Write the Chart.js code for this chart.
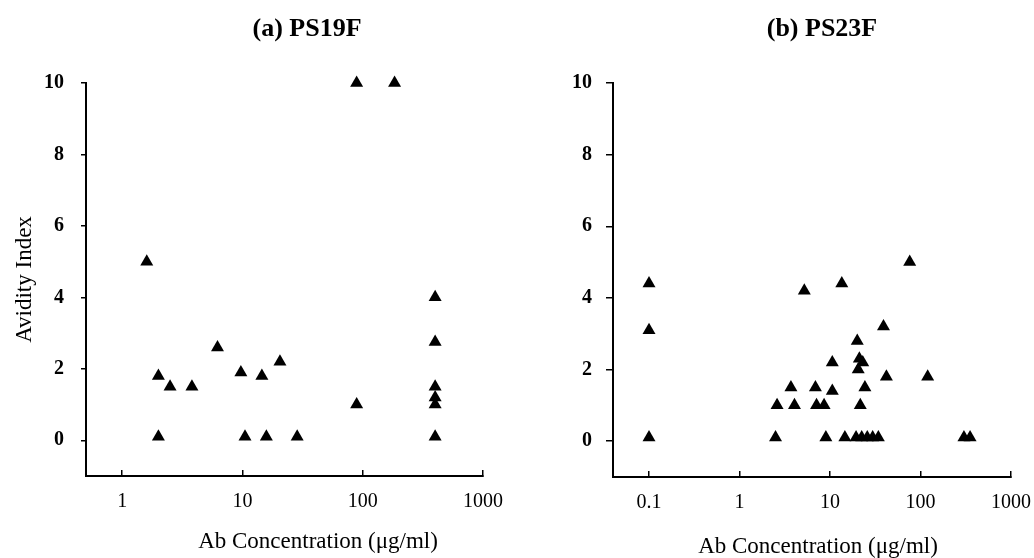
<!DOCTYPE html>
<html>
<head>
<meta charset="utf-8">
<script src="https://cdn.jsdelivr.net/npm/chart.js@4/dist/chart.umd.min.js"></script>
<style>
  body { margin: 0; background: #fff; }
  #wrap { position: relative; width: 1034px; height: 558px; }
  canvas { position: absolute; top: 0; }
  #chartA { left: 0; }
  #chartB { left: 517px; }
</style>
</head>
<body>
<div id="wrap">
  <canvas id="chartA" width="517" height="558"></canvas>
  <canvas id="chartB" width="517" height="558"></canvas>
</div>
<script>
const titleA = '(a) PS19F';
const titleB = '(b) PS23F';
const yLabel = 'Avidity Index';
const xLabel = 'Ab Concentration (\u03bcg/ml)';

// (a) PS19F
const concA = [1.6, 2.0, 2.0, 2.5, 3.8, 6.2, 9.7, 10.5, 14.5, 15.8, 20.5, 28.5, 89, 89, 184, 400, 400, 400, 400, 400, 400];
const avidA = [5.0, 1.8, 0.1, 1.5, 1.5, 2.6, 1.9, 0.1, 1.8, 0.1, 2.2, 0.1, 1.0, 10, 10, 4.0, 2.75, 1.5, 1.2, 1.0, 0.1];

// (b) PS23F
const concB = [0.1, 0.1, 0.1, 2.5, 2.6, 3.7, 4.05, 5.2, 6.9, 7.1, 8.6, 9.0, 10.6, 10.6, 13.5, 14.6,
               19.4, 20, 20.5, 21.1, 23, 21.6, 24.3, 22.4, 25.8, 29.6, 34.2, 39, 42, 76, 120, 302, 353];
const avidB = [4.4, 3.1, 0.1, 0.1, 1.0, 1.5, 1.0, 4.2, 1.5, 1.0, 1.0, 0.1, 2.2, 1.4, 4.4, 0.1,
               0.1, 2.8, 2.0, 2.3, 2.2, 1.0, 1.5, 0.1, 0.1, 0.1, 0.1, 3.2, 1.8, 5.0, 1.8, 0.1, 0.1];

const yTicks = [0, 2, 4, 6, 8, 10];
const xTicksA = [1, 10, 100, 1000];
const xTicksB = [0.1, 1, 10, 100, 1000];

const serif = "'Liberation Serif', 'Times New Roman', serif";

// panel title and x axis title, placed like the original figure
const panelText = {
  id: 'panelText',
  afterDraw(chart, args, opts) {
    const ctx = chart.ctx;
    ctx.save();
    ctx.fillStyle = '#000';
    ctx.textAlign = 'center';
    ctx.textBaseline = 'alphabetic';
    ctx.font = 'bold 26px ' + serif;
    ctx.fillText(opts.title, opts.titleX, 36);
    ctx.font = '23px ' + serif;
    ctx.fillText(xLabel, opts.xLabelX, opts.xLabelY);
    ctx.restore();
  }
};

function makeChart(id, xs, ys, o) {
  const points = xs.map((x, i) => ({ x: x, y: ys[i] }));
  return new Chart(document.getElementById(id), {
    type: 'scatter',
    data: {
      datasets: [{
        data: points,
        clip: false,
        pointStyle: 'triangle',
        pointRadius: 7.5,
        pointHoverRadius: 7.5,
        backgroundColor: '#000',
        borderColor: '#000',
        borderWidth: 0
      }]
    },
    options: {
      responsive: false,
      animation: false,
      devicePixelRatio: 1,
      layout: { padding: { top: 83, right: o.padRight, left: 0, bottom: 0 } },
      plugins: {
        legend: { display: false },
        tooltip: { enabled: false },
        panelText: { title: o.title, titleX: o.titleX, xLabelX: o.xLabelX, xLabelY: o.xLabelY }
      },
      scales: {
        x: {
          type: 'logarithmic',
          min: o.xMin,
          max: 1000,
          afterBuildTicks: s => { s.ticks = o.xTicks.map(v => ({ value: v })); },
          afterFit: s => { s.height = o.xHeight; s.paddingLeft = 0; s.paddingRight = 0; },
          border: { display: true, color: '#000', width: 2 },
          grid: { drawOnChartArea: false, drawTicks: true, tickLength: -6, color: '#000', lineWidth: 1.5 },
          ticks: {
            color: '#000',
            font: { family: serif, size: 20 },
            padding: 20,
            maxRotation: 0,
            autoSkip: false,
            callback: v => String(v)
          }
        },
        y: {
          min: -1,
          max: 10,
          afterBuildTicks: s => { s.ticks = yTicks.map(v => ({ value: v })); },
          afterFit: s => { s.width = o.yWidth; s.paddingTop = 0; s.paddingBottom = 0; },
          border: { display: true, color: '#000', width: 2 },
          grid: { drawOnChartArea: false, drawTicks: true, tickLength: o.yTickLen, color: '#000', lineWidth: 1.5 },
          ticks: {
            color: '#000',
            font: { family: serif, size: 20, weight: 'bold' },
            padding: o.yTickPad
          },
          title: {
            display: o.showYTitle,
            text: yLabel,
            color: '#000',
            font: { family: serif, size: 23 },
            padding: { top: 11, bottom: 0 }
          }
        }
      }
    },
    plugins: [panelText]
  });
}

makeChart('chartA', concA, avidA, {
  title: titleA, titleX: 307, xLabelX: 318, xLabelY: 548,
  xMin: 0.5, xTicks: xTicksA, padRight: 34, yWidth: 86, xHeight: 82,
  yTickLen: 5, yTickPad: 17, showYTitle: true
});

makeChart('chartB', concB, avidB, {
  title: titleB, titleX: 305, xLabelX: 301, xLabelY: 553,
  xMin: 0.04, xTicks: xTicksB, padRight: 23, yWidth: 96, xHeight: 81,
  yTickLen: 7, yTickPad: 14, showYTitle: false
});
</script>
</body>
</html>
